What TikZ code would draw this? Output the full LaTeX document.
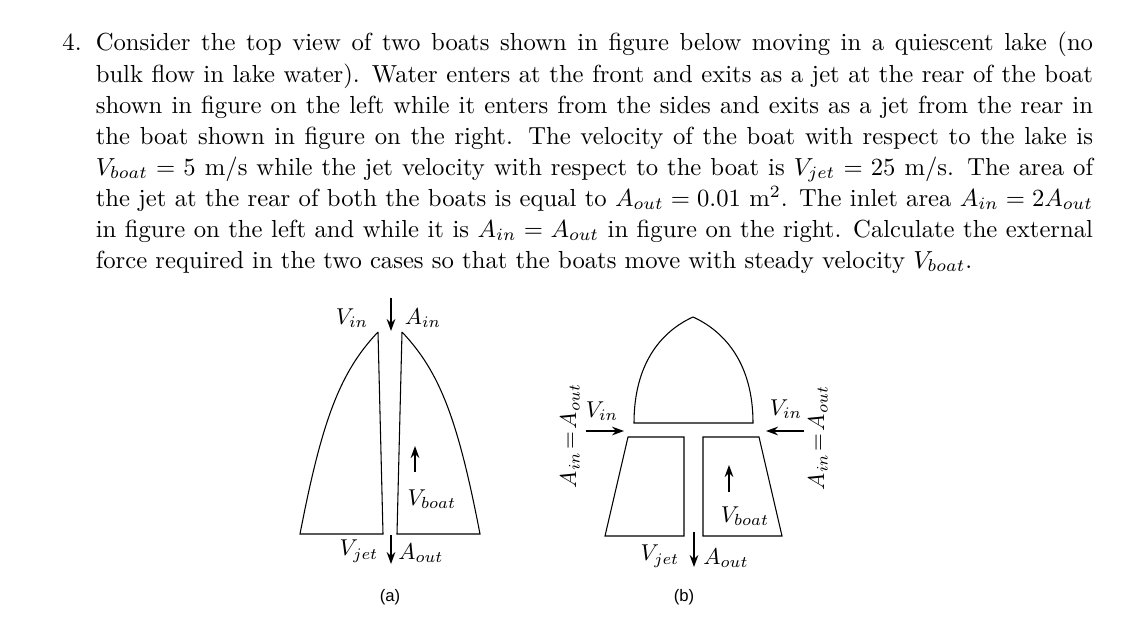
\documentclass[tikz,border=0pt]{standalone}
\usepackage{amsmath}
\usepackage{fontspec}
\newfontfamily\capfont{Liberation Sans}
\usetikzlibrary{arrows.meta}
\begin{document}
\begin{tikzpicture}[x=0.75pt,y=-0.75pt,
  boat/.style={draw,line width=0.8pt},
  arr/.style={-{Stealth[length=9pt,width=6.5pt]},line width=0.9pt},
  lab/.style={inner sep=0pt,transform shape,scale=1.72,font=\fontsize{10}{12}\selectfont},
  captxt/.style={inner sep=0pt,font=\capfont\fontsize{12.5}{14}\selectfont}]
\useasboundingbox (0,0) rectangle (1144,639);
\node[anchor=north west,inner sep=0pt,align=justify,transform shape,scale=1.85,text width=417.8pt,font=\fontsize{10}{12.57}\selectfont] (txt) at (62,32)
{\makebox[13.5pt][l]{4.}Consider the top view of two boats shown in figure below moving in a quiescent lake (no\linebreak
\hspace*{13.5pt}bulk flow in lake water). Water enters at the front and exits as a jet at the rear of the boat\linebreak
\hspace*{13.5pt}shown in figure on the left while it enters from the sides and exits as a jet from the rear in\linebreak
\hspace*{13.5pt}the boat shown in figure on the right. The velocity of the boat with respect to the lake is\linebreak
\hspace*{13.5pt}$V_{boat}=5$ m/s while the jet velocity with respect to the boat is $V_{jet}=25$ m/s. The area of\linebreak
\hspace*{13.5pt}the jet at the rear of both the boats is equal to $A_{out}=0.01$ m$^2$. The inlet area $A_{in}=2A_{out}$\linebreak
\hspace*{13.5pt}in figure on the left and while it is $A_{in}=A_{out}$ in figure on the right. Calculate the external\linebreak
\hspace*{13.5pt}force required in the two cases so that the boats move with steady velocity $V_{boat}$.\hfill\null};
% (a)
\draw[boat] (378,332) -- (383,534) -- (300,534) .. controls (322,420) and (340,372) .. (378,332);
\draw[boat] (402,332) -- (397,534) -- (480,534) .. controls (458,420) and (440,372) .. (402,332);
\coordinate (a1) at (391,298); \coordinate (a2) at (391,331);
\draw[arr] (a1) -- (a2);
\coordinate (a3) at (391,535); \coordinate (a4) at (391,564);
\draw[arr] (a3) -- (a4);
\coordinate (a5) at (415,472); \coordinate (a6) at (415,446);
\draw[arr] (a5) -- (a6);
\node[lab] (av) at (352,318) {$V_{in}$};
\node[lab] (aa) at (423,318) {$A_{in}$};
\node[lab] (aj) at (359,551) {$V_{jet}$};
\node[lab] (ao) at (421,553) {$A_{out}$};
\node[lab] (ab) at (432,499) {$V_{boat}$};
\node[captxt] (ca) at (390,597) {(a)};
% (b)
\draw[boat] (634,423) .. controls (634,365) and (660,332) .. (693,317) .. controls (726,332) and (753,365) .. (753,423) -- cycle;
\draw[boat] (628,437) -- (684,437) -- (684,536) -- (605,536) -- cycle;
\draw[boat] (703,437) -- (759,437) -- (782,536) -- (703,536) -- cycle;
\coordinate (b1) at (694,532); \coordinate (b2) at (694,567);
\draw[arr] (b1) -- (b2);
\coordinate (b3) at (729,492); \coordinate (b4) at (729,465);
\draw[arr] (b3) -- (b4);
\coordinate (b5) at (586,431); \coordinate (b6) at (624,431);
\draw[arr] (b5) -- (b6);
\coordinate (b7) at (804,431); \coordinate (b8) at (766,431);
\draw[arr] (b7) -- (b8);
\node[lab] (bv1) at (602,411) {$V_{in}$};
\node[lab] (bv2) at (786,409) {$V_{in}$};
\node[lab] (bj) at (660,556) {$V_{jet}$};
\node[lab] (bo) at (726,558) {$A_{out}$};
\node[lab] (bb) at (745,516) {$V_{boat}$};
\node[lab,rotate=90] (br1) at (570,436) {$A_{in}\!=\!A_{out}$};
\node[lab,rotate=90] (br2) at (818,438) {$A_{in}\!=\!A_{out}$};
\node[captxt] (cb) at (684,597) {(b)};
\end{tikzpicture}
\end{document}
